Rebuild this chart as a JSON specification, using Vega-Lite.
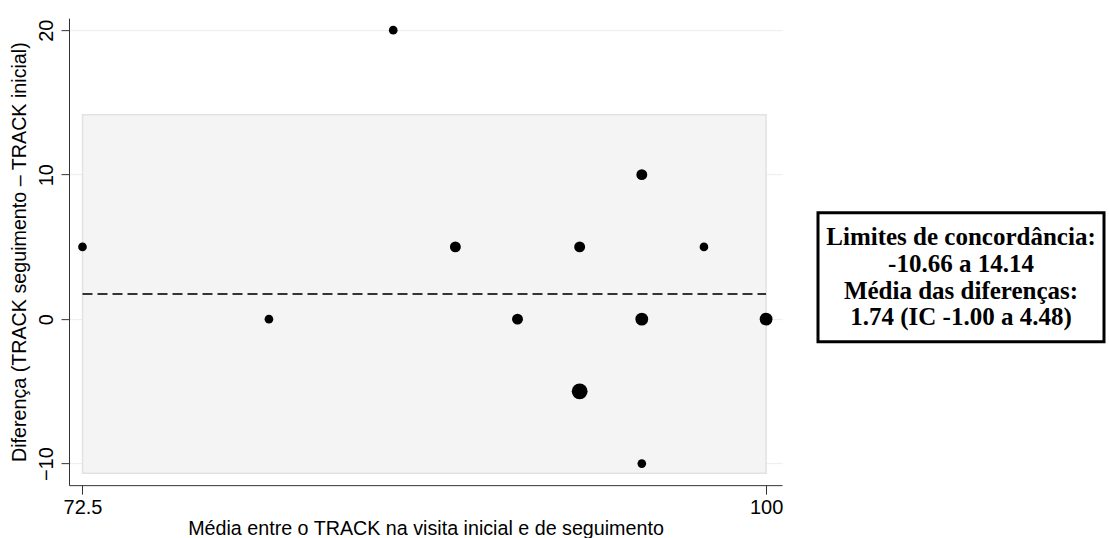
{
  "$schema": "https://vega.github.io/schema/vega-lite/v6.json",
  "background": "white",
  "padding": {"left": 9, "top": 18, "right": 3, "bottom": 2},
  "config": {
    "font": "Liberation Sans",
    "axis": {"labelFont": "Liberation Sans", "titleFont": "Liberation Sans", "labelColor": "black", "titleColor": "black", "titleFontWeight": "normal", "domainColor": "#333333", "tickColor": "#333333", "labelFontSize": 20, "titleFontSize": 19.7}
  },
  "hconcat": [
    {
      "width": 713,
      "height": 467,
      "view": {"stroke": null},
      "layer": [
        {
          "data": {"values": [{"xlo": 72.5, "xhi": 100, "lo": -10.66, "hi": 14.14}]},
          "mark": {"type": "rect", "fill": "#f4f4f4", "stroke": "#e2e2e2", "strokeWidth": 1.5},
          "encoding": {
            "x": {"field": "xlo", "type": "quantitative", "scale": {"domain": [71.957, 100.64], "nice": false, "zero": false}},
            "x2": {"field": "xhi"},
            "y": {"field": "lo", "type": "quantitative", "scale": {"domain": [-11.49, 20.83], "nice": false, "zero": false}},
            "y2": {"field": "hi"}
          }
        },
        {
          "data": {"values": [{"xlo": 72.5, "xhi": 100, "mean": 1.74}]},
          "mark": {"type": "rule", "color": "#333333", "strokeWidth": 2, "strokeDash": [10, 5]},
          "encoding": {
            "x": {"field": "xlo", "type": "quantitative"},
            "x2": {"field": "xhi"},
            "y": {"field": "mean", "type": "quantitative"}
          }
        },
        {
          "data": {"values": [
            {"media": 72.5, "dif": 5, "n": 1},
            {"media": 80, "dif": 0, "n": 1},
            {"media": 85, "dif": 20, "n": 1},
            {"media": 87.5, "dif": 5, "n": 2},
            {"media": 90, "dif": 0, "n": 2},
            {"media": 92.5, "dif": 5, "n": 2},
            {"media": 92.5, "dif": -5, "n": 5},
            {"media": 95, "dif": 10, "n": 2},
            {"media": 95, "dif": 0, "n": 3},
            {"media": 95, "dif": -10, "n": 1},
            {"media": 97.5, "dif": 5, "n": 1},
            {"media": 100, "dif": 0, "n": 3}
          ]},
          "mark": {"type": "circle", "color": "black", "opacity": 1},
          "encoding": {
            "x": {"field": "media", "type": "quantitative",
              "axis": {"values": [72.5, 100], "grid": false, "tickSize": 9, "labelPadding": 3, "title": "Média entre o TRACK na visita inicial e de seguimento", "titlePadding": 1, "format": ".1~f"}},
            "y": {"field": "dif", "type": "quantitative",
              "axis": {"values": [-10, 0, 10, 20], "grid": true, "gridColor": "#e6edf0", "tickSize": 8, "labelAngle": -90, "labelAlign": "center", "labelBaseline": "bottom", "labelPadding": 5, "title": "Diferença (TRACK seguimento – TRACK inicial)", "titlePadding": 7}},
            "size": {"field": "n", "type": "quantitative", "legend": null, "scale": {"domain": [1, 5], "range": [75, 250]}}
          }
        }
      ]
    },
    {
      "width": 286,
      "height": 129,
      "view": {"stroke": "black", "strokeWidth": 3, "fill": "white"},
      "data": {"values": [
        {"linha": 4, "texto": "Limites de concordância:"},
        {"linha": 3, "texto": "-10.66 a 14.14"},
        {"linha": 2, "texto": "Média das diferenças:"},
        {"linha": 1, "texto": "1.74 (IC -1.00 a 4.48)"}
      ]},
      "mark": {"type": "text", "font": "Liberation Serif", "fontWeight": "bold", "fontSize": 25, "color": "black", "baseline": "middle", "align": "center"},
      "encoding": {
        "y": {"field": "linha", "type": "quantitative", "axis": null, "scale": {"domain": [0.07, 4.93], "nice": false, "zero": false}},
        "text": {"field": "texto", "type": "nominal"}
      }
    }
  ],
  "spacing": 33,
  "center": true
}
